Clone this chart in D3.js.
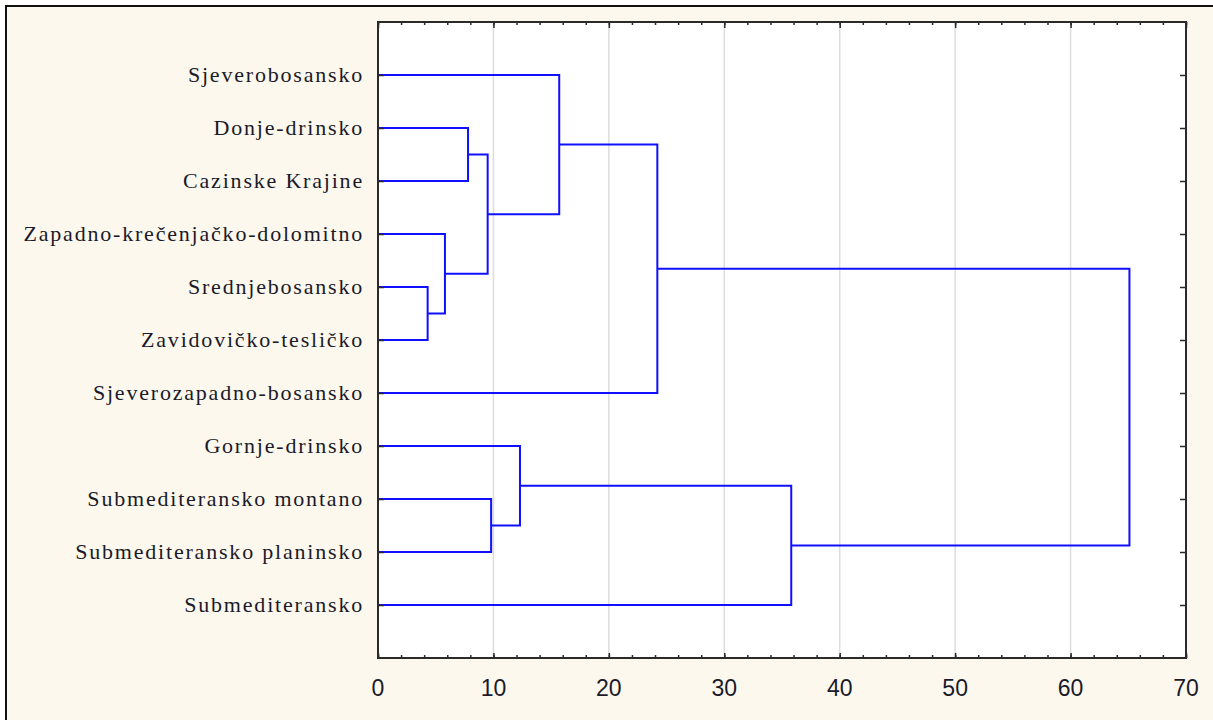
<!DOCTYPE html>
<html>
<head>
<meta charset="utf-8">
<script src="https://cdn.jsdelivr.net/npm/d3@7"></script>
<style>
  html, body { margin: 0; padding: 0; background: #fff; }
  svg { display: block; }
</style>
</head>
<body>
<div id="chart"></div>
<script>
// Leaves, top to bottom
const leaves = [
  "Sjeverobosansko",
  "Donje-drinsko",
  "Cazinske Krajine",
  "Zapadno-krečenjačko-dolomitno",
  "Srednjebosansko",
  "Zavidovičko-tesličko",
  "Sjeverozapadno-bosansko",
  "Gornje-drinsko",
  "Submediteransko montano",
  "Submediteransko planinsko",
  "Submediteransko"
];

// Linkage steps: [child a, child b, linkage distance]
// ids 0..10 are leaves, each merge gets the next id (11, 12, ...)
const merges = [
  [1, 2, 7.8],     // 11
  [4, 5, 4.3],     // 12
  [3, 12, 5.8],    // 13
  [11, 13, 9.5],   // 14
  [0, 14, 15.7],   // 15
  [15, 6, 24.2],   // 16
  [8, 9, 9.8],     // 17
  [7, 17, 12.3],   // 18
  [18, 10, 35.8],  // 19
  [16, 19, 65.1]   // 20
];

const xTicks = [0, 10, 20, 30, 40, 50, 60, 70];
const xMinorTicks = d3.range(0, 71, 2);

const W = 1213, H = 720;
const margin = { top: 22, right: 27, bottom: 62, left: 378 };
const iW = W - margin.left - margin.right;
const iH = H - margin.top - margin.bottom;

const svg = d3.select("#chart").append("svg")
  .attr("width", W).attr("height", H);

// outer frame (cream panel, cut off at right and bottom)
svg.append("rect")
  .attr("x", 6).attr("y", 6).attr("width", W + 20).attr("height", H + 20)
  .attr("fill", "#fdf8ed").attr("stroke", "#111").attr("stroke-width", 2);

const g = svg.append("g").attr("transform", `translate(${margin.left},${margin.top})`);

const x = d3.scaleLinear().domain([0, 70]).range([0, iW]);
const y = d3.scalePoint().domain(leaves).range([0, iH]).padding(1);

g.append("rect").attr("width", iW).attr("height", iH).attr("fill", "#fff");

// gridlines
g.selectAll(".grid")
  .data(xTicks.filter(t => t > 0 && t < 70))
  .join("line")
  .attr("x1", d => x(d)).attr("x2", d => x(d))
  .attr("y1", 0).attr("y2", iH)
  .attr("stroke", "#dcdcdc").attr("stroke-width", 1.5);

// node positions
const nodes = leaves.map(name => ({ x: x(0), y: y(name) }));
merges.forEach(([a, b, h]) => {
  nodes.push({ x: x(h), y: (nodes[a].y + nodes[b].y) / 2 });
});

// dendrogram elbows
g.selectAll(".link")
  .data(merges)
  .join("path")
  .attr("fill", "none")
  .attr("stroke", "#1010ff")
  .attr("stroke-width", 2)
  .attr("d", ([a, b, h]) => {
    const A = nodes[a], B = nodes[b], mx = x(h);
    return `M${A.x},${A.y}H${mx}V${B.y}H${B.x}`;
  });

// axes: ticks pointing inward on all four sides
const axisCol = "#2a2a2a";
const styleTicks = a => a.call(s => s.select(".domain").remove())
  .call(s => s.selectAll("line").attr("stroke", axisCol).attr("stroke-width", 1.5));

const bottomAxis = g.append("g").attr("transform", `translate(0,${iH})`);
bottomAxis.append("g")
  .call(d3.axisTop(x).tickValues(xMinorTicks).tickSize(3).tickFormat(""))
  .call(styleTicks);
bottomAxis.append("g")
  .call(d3.axisTop(x).tickValues(xTicks).tickSize(5).tickFormat(""))
  .call(styleTicks);
bottomAxis.selectAll(".lbl")
  .data(xTicks)
  .join("text")
  .attr("x", d => x(d)).attr("y", 38)
  .attr("text-anchor", "middle")
  .attr("font-family", "'Liberation Sans', Arial, sans-serif")
  .attr("font-size", 23)
  .attr("fill", "#1a1a2a")
  .text(d => d);

const topAxis = g.append("g");
topAxis.append("g")
  .call(d3.axisBottom(x).tickValues(xMinorTicks).tickSize(3).tickFormat(""))
  .call(styleTicks);
topAxis.append("g")
  .call(d3.axisBottom(x).tickValues(xTicks).tickSize(6).tickFormat(""))
  .call(styleTicks);

g.append("g")
  .call(d3.axisRight(y).tickSize(6).tickFormat(""))
  .call(styleTicks);

g.append("g").attr("transform", `translate(${iW},0)`)
  .call(d3.axisLeft(y).tickSize(6).tickFormat(""))
  .call(styleTicks);

// plot frame
g.append("rect").attr("width", iW).attr("height", iH)
  .attr("fill", "none").attr("stroke", axisCol).attr("stroke-width", 2);

// leaf labels (source uses wide letter spacing)
g.selectAll(".leaf")
  .data(leaves)
  .join("text")
  .attr("x", -14).attr("y", d => y(d))
  .attr("dy", "0.32em")
  .attr("text-anchor", "end")
  .attr("font-family", "'Liberation Serif', 'Times New Roman', serif")
  .attr("font-size", 22)
  .attr("letter-spacing", 1.8)
  .attr("fill", "#1a1a2a")
  .text(d => d);
</script>
</body>
</html>
